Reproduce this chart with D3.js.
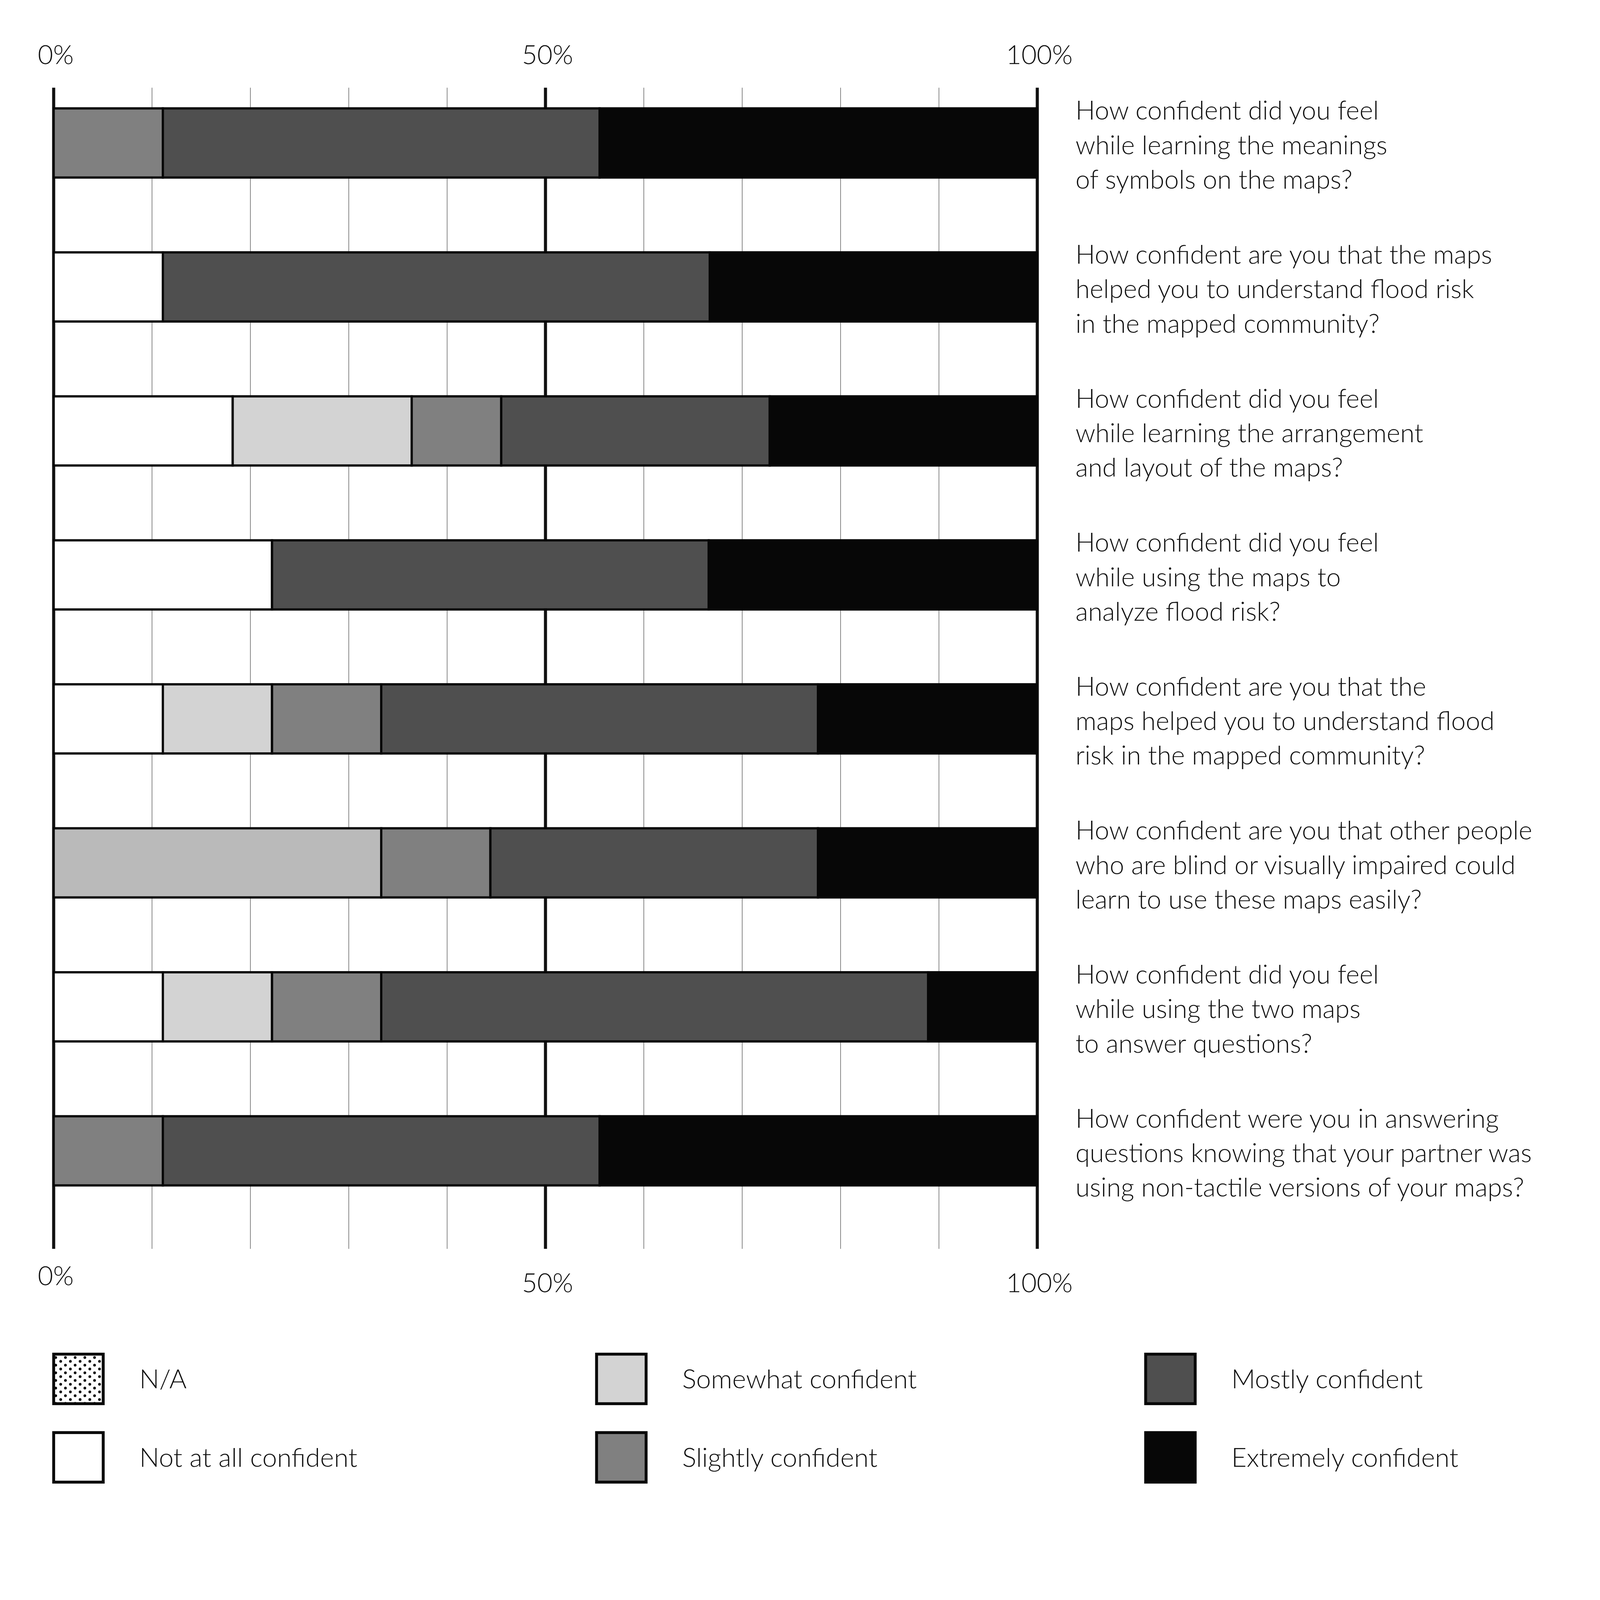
<!DOCTYPE html>
<html><head><meta charset="utf-8">
<script src="https://cdn.jsdelivr.net/npm/d3@7"></script>
<style>html,body{margin:0;padding:0;background:#fff;overflow:hidden}svg{display:block}text{font-family:Lato,"Open Sans",sans-serif;font-weight:300;fill:#111}</style>
</head><body>
<script>
// data (percent of respondents)
const questions = [
  ["How confident did you feel", "while learning the meanings", "of symbols on the maps?"],
  ["How confident are you that the maps", "helped you to understand flood risk", "in the mapped community?"],
  ["How confident did you feel", "while learning the arrangement", "and layout of the maps?"],
  ["How confident did you feel", "while using the maps to", "analyze flood risk?"],
  ["How confident are you that the", "maps helped you to understand flood", "risk in the mapped community?"],
  ["How confident are you that other people", "who are blind or visually impaired could", "learn to use these maps easily?"],
  ["How confident did you feel", "while using the two maps", "to answer questions?"],
  ["How confident were you in answering", "questions knowing that your partner was", "using non-tactile versions of your maps?"]
]
const categories = ["N/A", "Not at all confident", "Somewhat confident", "Slightly confident", "Mostly confident", "Extremely confident"]
const naVals       = [0, 0, 0, 0, 0, 0, 0, 0]
const notAllVals   = [0, 11.1, 18.2, 22.2, 11.1, 0, 11.1, 0]
const somewhatVals = [0, 0, 18.2, 0, 11.1, 33.3, 11.1, 0]
const slightlyVals = [11.1, 0, 9.1, 0, 11.1, 11.1, 11.1, 11.1]
const mostlyVals   = [44.4, 55.6, 27.3, 44.4, 44.4, 33.3, 55.6, 44.4]
const extremeVals  = [44.5, 33.3, 27.2, 33.4, 22.2, 22.3, 11.1, 44.5]
const tickLabels = ["0%", "50%", "100%"]

const series = [naVals, notAllVals, somewhatVals, slightlyVals, mostlyVals, extremeVals]
const fills = ["url(#dots)", "#fff", "#d3d3d3", "#808080", "#4f4f4f", "#070707"]

const W = 7751, H = 7265
const svg = d3.select("body").append("svg")
  .attr("width", "100vw").attr("height", "100vh")
  .attr("viewBox", `0 0 ${W} ${H}`).attr("preserveAspectRatio", "xMinYMin meet")

const pat = svg.append("defs").append("pattern").attr("id", "dots")
  .attr("patternUnits", "userSpaceOnUse").attr("width", 47).attr("height", 37)
pat.append("rect").attr("width", 47).attr("height", 37).attr("fill", "#fff")
;[[12, 9], [35, 27.5], [-12, 27.5], [35, -9.5], [12, 46]].forEach(p =>
  pat.append("circle").attr("cx", p[0]).attr("cy", p[1]).attr("r", 6.5).attr("fill", "#000"))

const x = d3.scaleLinear().domain([0, 100]).range([260, 5025])
const rowStep = 697.5, barTop = 525, barH = 335
const y = d3.scaleLinear().domain([0, 1]).range([barTop, barTop + rowStep])
const gridTop = 425, gridBot = 6050

// gridlines
const g = svg.append("g")
g.selectAll(".minor").data(d3.range(10, 100, 10).filter(d => d != 50)).join("line")
  .attr("x1", d => x(d)).attr("x2", d => x(d)).attr("y1", gridTop).attr("y2", gridBot)
  .attr("stroke", "#6a6a6a").attr("stroke-width", 3)
g.selectAll(".major").data([0, 50, 100]).join("line")
  .attr("x1", d => x(d)).attr("x2", d => x(d)).attr("y1", gridTop).attr("y2", gridBot)
  .attr("stroke", "#111").attr("stroke-width", 15)

// bars
questions.forEach((q, i) => {
  let acc = 0
  const segs = []
  series.forEach((s, k) => {
    if (s[i] > 0) segs.push({k: k, x0: acc, x1: acc + s[i]})
    acc += s[i]
  })
  svg.append("g").selectAll("rect").data(segs).join("rect")
    .attr("x", d => x(d.x0)).attr("width", d => x(d.x1) - x(d.x0))
    .attr("y", y(i)).attr("height", barH)
    .attr("fill", d => (i == 5 && d.k == 2) ? "#bababa" : fills[d.k])
    .attr("stroke", "#070707").attr("stroke-width", 11)

  svg.append("text").attr("x", 5210).attr("y", y(i) + 55)
    .attr("font-size", 126)
    .selectAll("tspan").data(q).join("tspan")
    .attr("x", 5210).attr("dy", (d, j) => j == 0 ? 0 : 167).text(d => d)
})

// tick labels
const tickVals = [0, 50, 100]
;[[310, [0, 0, 0]], [6240, [-15, 20, 20]]].forEach(([ty, off]) => {
  svg.append("g").selectAll("text").data(tickVals).join("text")
    .attr("x", d => x(d) + 10).attr("y", (d, j) => ty + off[j])
    .attr("text-anchor", "middle").attr("font-size", 128)
    .text((d, j) => tickLabels[j])
})

// legend
const legX = [260, 2890, 5550], legY = [6560, 6940]
categories.forEach((c, k) => {
  const col = Math.floor(k / 2), row = k % 2
  svg.append("rect").attr("x", legX[col]).attr("y", legY[row]).attr("width", 240).attr("height", 240)
    .attr("fill", fills[k]).attr("stroke", "#070707").attr("stroke-width", 14)
  svg.append("text").attr("x", legX[col] + 415).attr("y", legY[row] + 165)
    .attr("font-size", 128).text(c)
})
</script>
</body></html>
